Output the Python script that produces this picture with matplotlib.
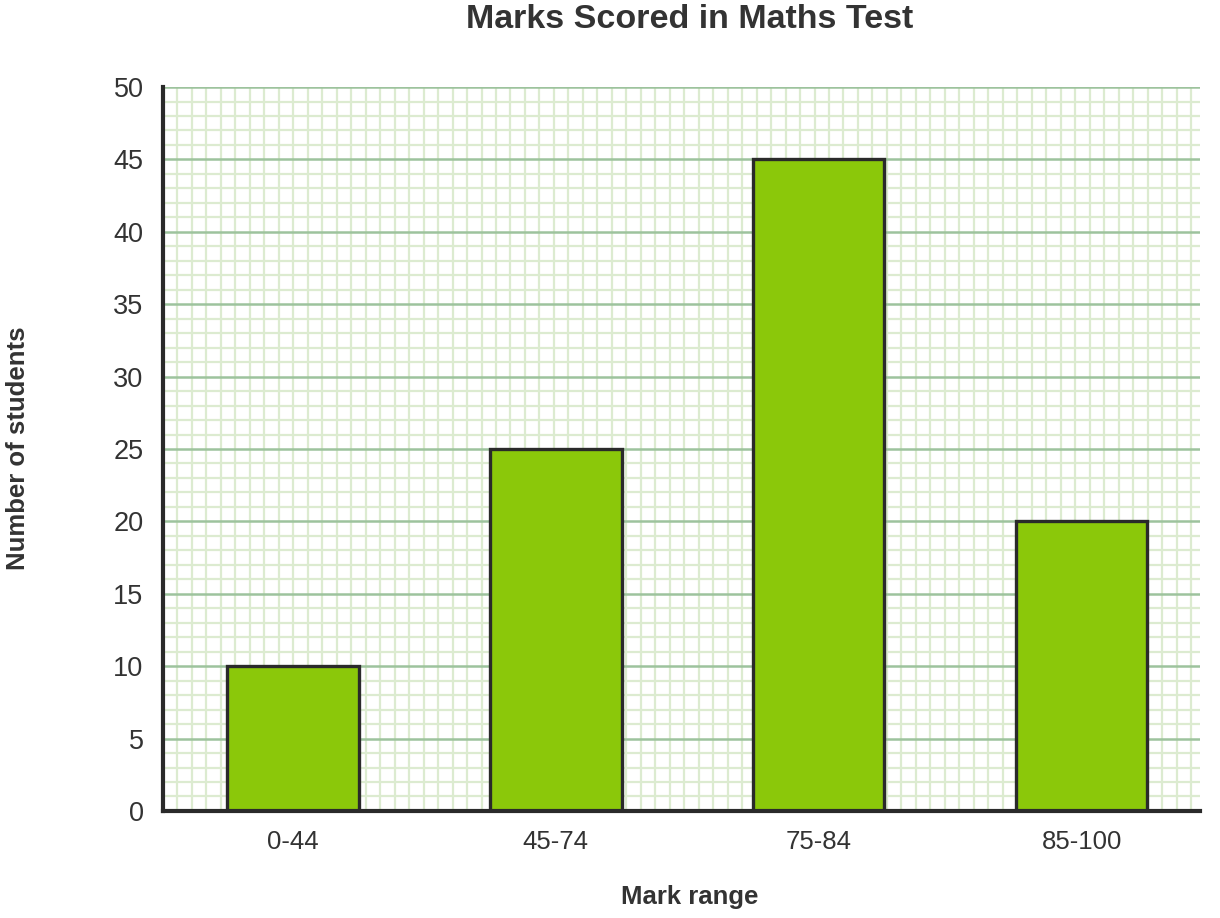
import numpy as np
from matplotlib import pyplot as plt

categories = ["0-44", "45-74", "75-84", "85-100"]
students = [10, 25, 45, 20]

plt.rcParams['font.family'] = ['Liberation Sans', 'DejaVu Sans']

fig = plt.figure(figsize=(12.2, 9.18), dpi=100)
ax = fig.add_axes([0.1336, 0.1166, 0.85, 0.7886])

x = np.arange(len(categories))
xlim = (-0.494, 3.45)
ylim = (0, 50)
ax.set_xlim(*xlim)
ax.set_ylim(*ylim)

# graph paper: minor squares every 1 unit in y, same pixel size in x
px_per_unit_y = 0.7886 * 918 / 50.0
px_per_unit_x = 0.85 * 1220 / (xlim[1] - xlim[0])
step_x = px_per_unit_y / px_per_unit_x
for gx in np.arange(xlim[0], xlim[1], step_x):
    ax.axvline(gx, color='#dcebd0', lw=1.6, zorder=0)
for gy in range(0, 51):
    if gy % 5 == 0:
        ax.axhline(gy, color='#9dc39d', lw=1.8, zorder=1)
    else:
        ax.axhline(gy, color='#dcebd0', lw=1.6, zorder=0)

ax.bar(x, students, width=0.5, color='#8bc80a', edgecolor='#2a2a2a',
       linewidth=2.4, zorder=3)

ax.set_xticks(x)
ax.set_xticklabels(categories)
ax.set_yticks(range(0, 51, 5))
ax.tick_params(axis='both', length=0, colors='#333333')
ax.tick_params(axis='y', pad=14, labelsize=19.5)
ax.tick_params(axis='x', pad=14, labelsize=18.5)

for s in ['top', 'right']:
    ax.spines[s].set_visible(False)
for s in ['left', 'bottom']:
    ax.spines[s].set_color('#2a2a2a')
    ax.spines[s].set_linewidth(3)
    ax.spines[s].set_zorder(4)

fig.text(0.565, 1 - 20 / 918, "Marks Scored in Maths Test", fontsize=24.5,
         fontweight='bold', color='#333333', ha='center', va='center')
fig.text(0.565, 1 - 897 / 918, "Mark range", fontsize=18.5,
         fontweight='bold', color='#333333', ha='center', va='center')
fig.text(18 / 1220, 0.512, "Number of students", fontsize=18.5,
         fontweight='bold', color='#333333', ha='center', va='center',
         rotation=90)

fig.savefig("out.png", dpi=100, facecolor='white')
